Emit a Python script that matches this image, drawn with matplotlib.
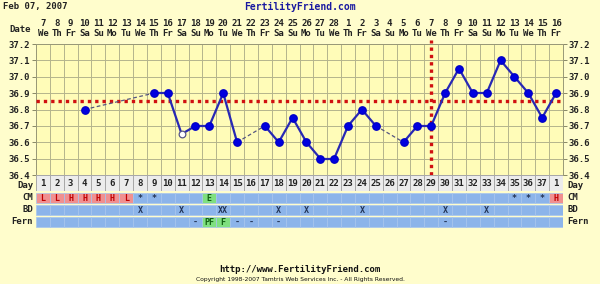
import matplotlib
matplotlib.use("Agg")
import matplotlib.pyplot as plt
from matplotlib.transforms import blended_transform_factory

# ---------------- data ----------------
cycle_days = list(range(1, 39))
day_labels = [str(d) for d in range(1, 38)] + ["1"]
date_numbers = [str(d) for d in range(7, 29)] + [str(d) for d in range(1, 17)]
weekdays = (["We", "Th", "Fr", "Sa", "Su", "Mo", "Tu"] * 6)[:38]

temps = [None, None, None, 36.80, None, None, None, None, 36.90, 36.90,
         36.65, 36.70, 36.70, 36.90, 36.60, None, 36.70, 36.60, 36.75, 36.60,
         36.50, 36.50, 36.70, 36.80, 36.70, None, 36.60, 36.70, 36.70, 36.90,
         37.05, 36.90, 36.90, 37.10, 37.00, 36.90, 36.75, 36.90]
open_days = [11]          # discarded / open temperature
coverline = 36.85
ovulation_day = 29

cm = ["L", "L", "H", "H", "H", "H", "L", "*", "*", "", "", "", "E", "", "", "",
      "", "", "", "", "", "", "", "", "", "", "", "", "", "", "", "", "", "",
      "*", "*", "*", "H"]
bd = ["", "", "", "", "", "", "", "X", "", "", "X", "", "", "XX", "", "", "",
      "X", "", "X", "", "", "", "X", "", "", "", "", "", "X", "", "", "X", "",
      "", "", "", ""]
fern = ["", "", "", "", "", "", "", "", "", "", "", "-", "PF", "F", "-", "-",
        "", "-", "", "", "", "", "", "", "", "", "", "", "", "-", "", "", "",
        "", "", "", "", ""]
yticks = [36.4, 36.5, 36.6, 36.7, 36.8, 36.9, 37.0, 37.1, 37.2]

# ---------------- style ----------------
W, H = 600, 284
outer_bg = "#fffdcc"
plot_bg = "#fffcb8"
grid_c = "#b4b48c"
blue_cell = "#8cb4ea"
pink_cell = "#f09090"
green_cell = "#7fe07f"
font = dict(family="DejaVu Sans Mono", weight="bold")
FS = 6.5

fig = plt.figure(figsize=(W / 100, H / 100), dpi=100, facecolor=outer_bg)


def px_axes(x0, y0, x1, y1):
    return fig.add_axes([x0 / W, 1 - y1 / H, (x1 - x0) / W, (y1 - y0) / H])


X0, X1 = 36, 563
ax = px_axes(X0, 44, X1, 175)
ax.set_facecolor(plot_bg)
ax.set_xlim(0.5, 38.5)
ax.set_ylim(36.4, 37.2)
ax.set_xticks([d + 0.5 for d in range(0, 39)], minor=True)
ax.set_xticks([])
ax.set_yticks(yticks)
ax.set_yticklabels([f"{t:.1f}" for t in yticks])
ax.tick_params(axis="y", which="both", left=True, right=True, labelleft=True,
               labelright=True, length=3, width=0.7, color="#888866",
               labelsize=FS, pad=1)
for lab in ax.get_yticklabels() + ax.yaxis.get_ticklabels(which="both"):
    lab.set_fontfamily("DejaVu Sans Mono")
    lab.set_fontweight("bold")
    lab.set_color("#222222")
ax.tick_params(axis="x", which="minor", length=0)
ax.grid(True, which="minor", axis="x", color=grid_c, lw=0.7)
ax.grid(True, which="major", axis="y", color=grid_c, lw=0.7)
for s in ax.spines.values():
    s.set_color("#999977")
    s.set_linewidth(0.7)

# coverline & ovulation line
ax.axhline(coverline, color="#d01010", lw=2.4, ls=(0, (1, 1.2)), zorder=3)
ax.axvline(ovulation_day, color="#d01010", lw=2.4, ls=(0, (1, 1.2)), zorder=3,
           ymin=0, ymax=1.03, clip_on=False)

# temperature line segments
pts = [(d, t) for d, t in zip(cycle_days, temps) if t is not None]
for (d1, t1), (d2, t2) in zip(pts[:-1], pts[1:]):
    if d2 - d1 == 1:
        ax.plot([d1, d2], [t1, t2], color="#2828b4", lw=1.6, zorder=4)
    else:
        ax.plot([d1, d2], [t1, t2], color="#555580", lw=0.9, ls=(0, (3, 2)),
                zorder=4)
fill_d = [d for d, t in pts if d not in open_days]
fill_t = [t for d, t in pts if d not in open_days]
ax.plot(fill_d, fill_t, "o", ms=5.3, color="#0000e0", mec="#0000c8", zorder=5)
ax.plot(open_days, [temps[d - 1] for d in open_days], "o", ms=4.8,
        mfc="white", mec="#555588", mew=0.9, zorder=5)

# header (dates / weekdays)
trh = blended_transform_factory(ax.transData, fig.transFigure)
for d, num, wd in zip(cycle_days, date_numbers, weekdays):
    ax.text(d, 1 - 24 / H, num, transform=trh, ha="center", va="center",
            fontsize=FS, color="#222222", **font)
    ax.text(d, 1 - 34 / H, wd, transform=trh, ha="center", va="center",
            fontsize=FS, color="#222222", **font)
fig.text(31 / W, 1 - 29 / H, "Date", ha="right", va="center", fontsize=FS,
         color="#222222", **font)
fig.text(3 / W, 1 - 7 / H, "Feb 07, 2007", ha="left", va="center",
         fontsize=FS, color="#222222", **font)
fig.text(300 / W, 1 - 7 / H, "FertilityFriend.com", ha="center",
         va="center", fontsize=7, color="#1a1aa0", **font)

# day row
axd = px_axes(X0, 175, X1, 191)
axd.set_xlim(0.5, 38.5)
axd.set_ylim(0, 1)
axd.bar(cycle_days, 1, width=1, bottom=0, color="#ececec",
        edgecolor="#a8a8a8", lw=0.7)
for d, lab in zip(cycle_days, day_labels):
    axd.text(d, 0.45, lab, ha="center", va="center", fontsize=FS,
             color="#222222", **font)
axd.axis("off")

# CM / BD / Fern rows
axr = px_axes(X0, 192, X1, 228)
axr.set_xlim(0.5, 38.5)
axr.set_ylim(3, 0)
rows = [cm, bd, fern]
for r, row in enumerate(rows):
    colors = []
    for j, v in enumerate(row):
        if r == 0 and v in ("L", "H"):
            colors.append(pink_cell)
        elif (r == 0 and v == "E") or (r == 2 and v in ("PF", "F")):
            colors.append(green_cell)
        else:
            colors.append(blue_cell)
    axr.bar(cycle_days, 0.9, width=1, bottom=r + 0.05, color=colors,
            edgecolor="#a6c4ee", lw=0.5)
    for d, v in zip(cycle_days, row):
        if not v:
            continue
        if r == 0 and v in ("L", "H"):
            c = "#c00000"
        elif v in ("E", "PF", "F"):
            c = "#106010"
        else:
            c = "#223355"
        axr.text(d, r + 0.52, v, ha="center", va="center", fontsize=6,
                 color=c, **font)
axr.axis("off")

# row labels
row_names = ["Day", "CM", "BD", "Fern"]
row_y = [185, 197, 209, 222]
for name, yy in zip(row_names, row_y):
    fig.text(33 / W, 1 - yy / H, name, ha="right", va="center", fontsize=FS,
             color="#222222", **font)
    fig.text(567 / W, 1 - yy / H, name, ha="left", va="center", fontsize=FS,
             color="#222222", **font)

# footer
fig.text(300 / W, 1 - 269 / H, "http://www.FertilityFriend.com", ha="center",
         va="center", fontsize=FS, color="#111111", **font)
fig.text(300 / W, 1 - 279 / H,
         "Copyright 1998-2007 Tamtris Web Services Inc. - All Rights Reserved.",
         ha="center", va="center", fontsize=4.3, color="#111111",
         family="DejaVu Sans")

fig.savefig("out.png", dpi=100, facecolor=outer_bg)
